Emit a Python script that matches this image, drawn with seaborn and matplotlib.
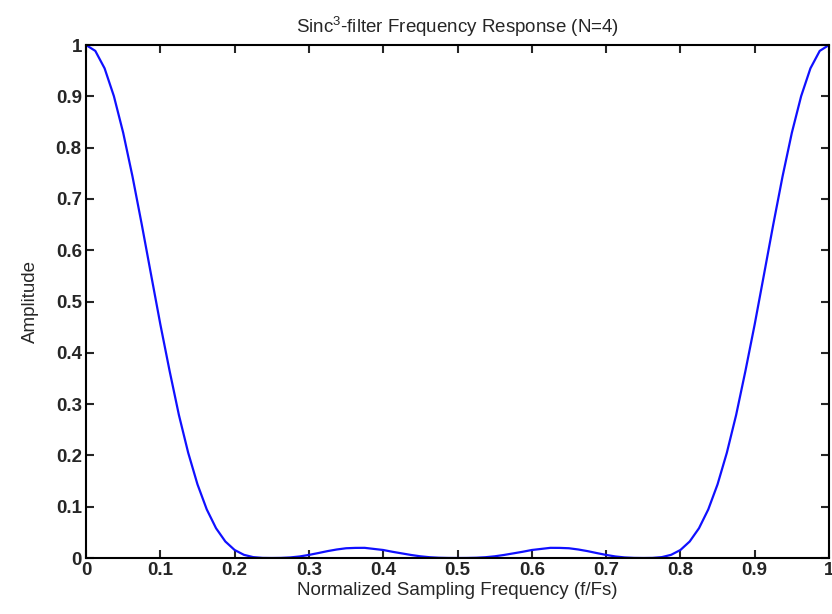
import matplotlib
matplotlib.use("Agg")
import matplotlib.pyplot as plt
import seaborn as sns
import pandas as pd

freq = [i * 0.0125 for i in range(81)]
amplitude = [
    1.0000, 0.9885, 0.9545, 0.9003, 0.8290, 0.7440, 0.6503, 0.5527,
    0.4556, 0.3646, 0.2788, 0.2052, 0.1436, 0.0947, 0.0580, 0.0322,
    0.0156, 0.0062, 0.0017, 0.0002, 0.0000, 0.0002, 0.0011, 0.0030,
    0.0060, 0.0096, 0.0134, 0.0166, 0.0190, 0.0197, 0.0198, 0.0177,
    0.0156, 0.0121, 0.0090, 0.0059, 0.0033, 0.0015, 0.0005, 0.0001,
    0.0000,
    0.0001, 0.0005, 0.0015, 0.0033, 0.0059, 0.0090, 0.0121, 0.0156,
    0.0177, 0.0198, 0.0197, 0.0190, 0.0166, 0.0134, 0.0096, 0.0060,
    0.0030, 0.0011, 0.0002, 0.0000, 0.0002, 0.0017, 0.0062, 0.0156,
    0.0322, 0.0580, 0.0947, 0.1436, 0.2052, 0.2788, 0.3646, 0.4556,
    0.5527, 0.6503, 0.7440, 0.8290, 0.9003, 0.9545, 0.9885, 1.0000,
]
xticks = [0, 0.1, 0.2, 0.3, 0.4, 0.5, 0.6, 0.7, 0.8, 0.9, 1]
xticklabels = ["0", "0.1", "0.2", "0.3", "0.4", "0.5", "0.6", "0.7", "0.8", "0.9", "1"]
yticks = [0, 0.1, 0.2, 0.3, 0.4, 0.5, 0.6, 0.7, 0.8, 0.9, 1]
yticklabels = ["0", "0.1", "0.2", "0.3", "0.4", "0.5", "0.6", "0.7", "0.8", "0.9", "1"]
title = "Sinc$^3$-filter Frequency Response (N=4)"
xlabel = "Normalized Sampling Frequency (f/Fs)"
ylabel = "Amplitude"

sns.set_style("ticks")
plt.rcParams["font.family"] = ["Liberation Sans", "DejaVu Sans"]
plt.rcParams["mathtext.fontset"] = "custom"
plt.rcParams["mathtext.rm"] = "Liberation Sans"
plt.rcParams["mathtext.it"] = "Liberation Sans"

df = pd.DataFrame({"f": freq, "amp": amplitude})

fig = plt.figure(figsize=(8.32, 6.14), dpi=100)
ax = fig.add_axes([0.1034, 0.0912, 0.8930, 0.8355])
sns.lineplot(data=df, x="f", y="amp", ax=ax, color="#1010ff", linewidth=1.6)

ax.set_xlim(0, 1)
ax.set_ylim(0, 1)
ax.set_xticks(xticks)
ax.set_xticklabels(xticklabels, fontsize=13.5, fontweight="bold")
ax.set_yticks(yticks)
ax.set_yticklabels(yticklabels, fontsize=13.5, fontweight="bold")
ax.tick_params(direction="in", length=6, width=1.5, top=True, right=True, pad=3)
for s in ax.spines.values():
    s.set_visible(True)
    s.set_linewidth(1.5)
    s.set_color("black")
ax.set_title(title, fontsize=13.5, pad=9)
ax.set_xlabel(xlabel, fontsize=13.5, labelpad=2)
ax.set_ylabel(ylabel, fontsize=13.5, labelpad=12)

fig.savefig("out.png", dpi=100)
